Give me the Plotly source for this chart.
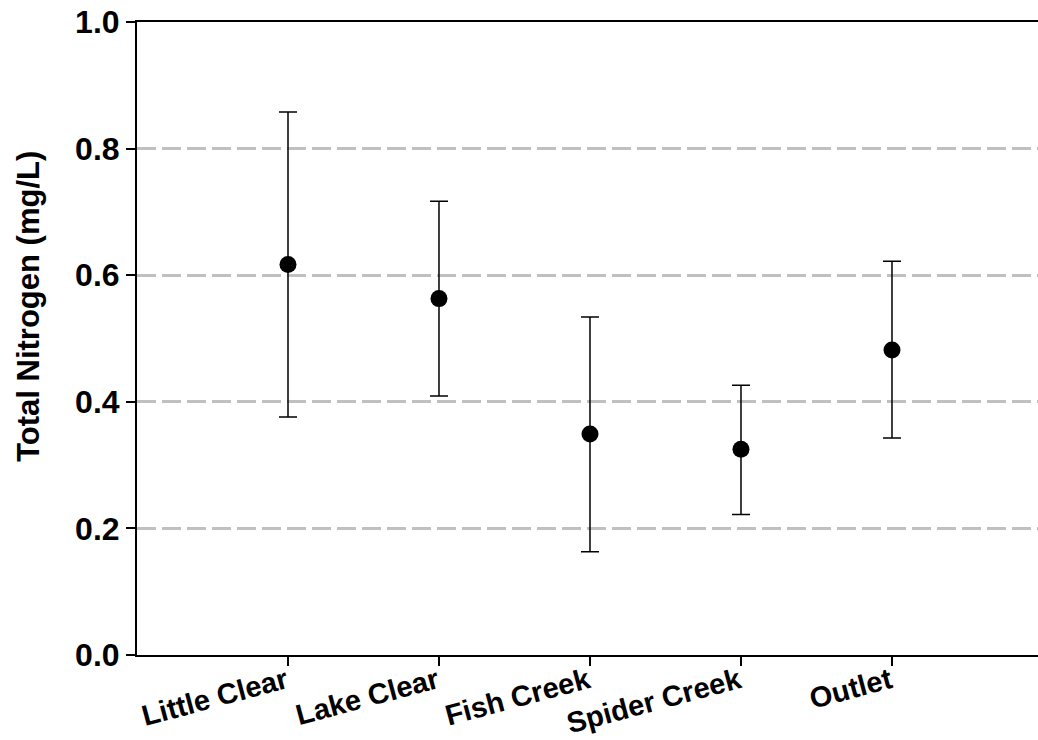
import plotly.graph_objects as go

sites = ["Little Clear", "Lake Clear", "Fish Creek", "Spider Creek", "Outlet"]
positions = [1, 2, 3, 4, 5]
mean_tn = [0.617, 0.563, 0.349, 0.325, 0.482]
upper_tn = [0.858, 0.717, 0.534, 0.426, 0.622]
lower_tn = [0.376, 0.409, 0.163, 0.222, 0.343]
y_ticks = [0.0, 0.2, 0.4, 0.6, 0.8, 1.0]
y_title = "Total Nitrogen (mg/L)"

err_plus = [u - m for u, m in zip(upper_tn, mean_tn)]
err_minus = [m - l for m, l in zip(mean_tn, lower_tn)]

fig = go.Figure()
fig.add_trace(go.Scatter(
    x=positions, y=mean_tn, mode="markers",
    marker=dict(size=17, color="black"),
    error_y=dict(type="data", symmetric=False, array=err_plus, arrayminus=err_minus,
                 color="black", thickness=1.5, width=9),
    showlegend=False,
))

font_family = "Liberation Sans, Arial, sans-serif"
fig.update_layout(
    width=1038, height=740,
    margin=dict(l=137, r=0, t=22, b=85),
    plot_bgcolor="white", paper_bgcolor="white",
    font=dict(family=font_family, color="black"),
    xaxis=dict(
        range=[0, 5.967], tickvals=positions, ticktext=["<b>%s</b>" % s for s in sites],
        tickangle=-15, tickfont=dict(size=29, family=font_family),
        ticklabelstandoff=-13, ticklabelshift=-2,
        showline=True, linecolor="black", linewidth=2, mirror=True,
        ticks="outside", ticklen=9, tickwidth=2, tickcolor="black",
        showgrid=False, zeroline=False, automargin=False,
    ),
    yaxis=dict(
        range=[0, 1], tickvals=y_ticks, ticktext=["<b>%.1f</b>" % v for v in y_ticks],
        tickfont=dict(size=32, family=font_family),
        showline=True, linecolor="black", linewidth=2, mirror=False,
        ticks="outside", ticklen=9, tickwidth=2, tickcolor="black",
        showgrid=True, gridcolor="#c0c0c0", gridwidth=3, griddash="19px,6px",
        zeroline=False, automargin=False,
    ),
    annotations=[dict(
        text="<b>%s</b>" % y_title, textangle=-90, showarrow=False,
        xref="paper", yref="paper", x=(29 - 137) / 901, y=0.55,
        xanchor="center", yanchor="middle",
        font=dict(size=31, family=font_family, color="black"),
    )],
)

fig.write_html("out.html")
